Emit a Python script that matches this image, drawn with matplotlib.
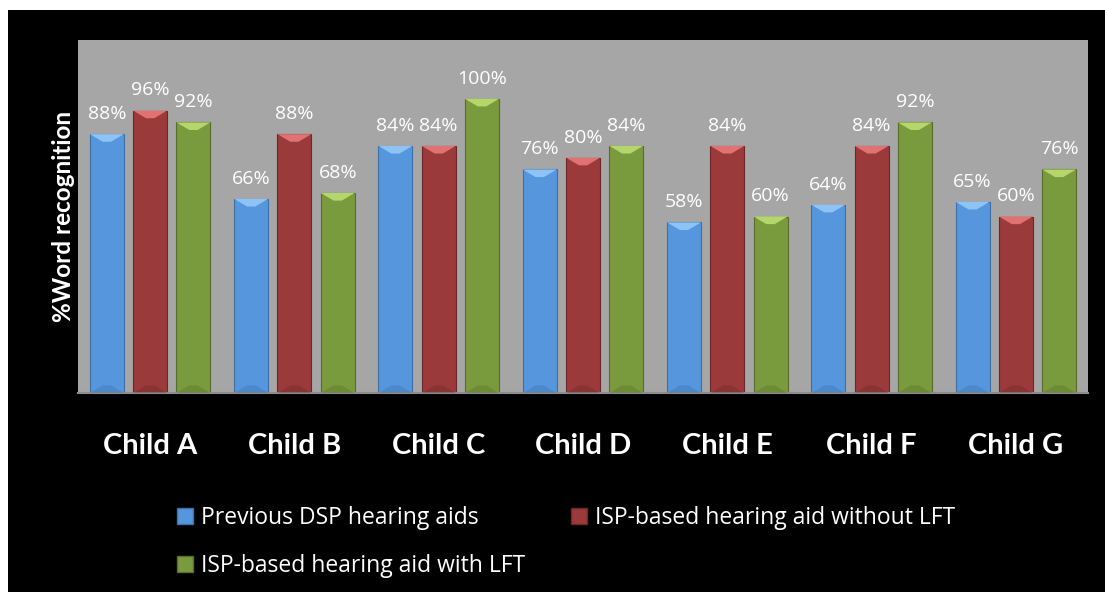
import numpy as np
import matplotlib
matplotlib.use("Agg")
from matplotlib import pyplot as plt
from matplotlib.patches import Polygon, Patch, Rectangle

plt.rcParams['font.family'] = ['Lato', 'DejaVu Sans']

children = ['Child A', 'Child B', 'Child C', 'Child D', 'Child E', 'Child F', 'Child G']
series_names = ['Previous DSP hearing aids',
                'ISP-based hearing aid without LFT',
                'ISP-based hearing aid with LFT']
dsp_prev = [88, 66, 84, 76, 58, 64, 65]
isp_no_lft = [96, 88, 84, 80, 84, 84, 60]
isp_lft = [92, 68, 100, 84, 60, 92, 76]

colors = ['#5596DD', '#9B3A3A', '#7A9A3E']
tops = ['#8EC4F5', '#E07272', '#B4D66A']
edges = ['#3D6FA8', '#6E2626', '#566E2A']

fig = plt.figure(figsize=(11.05, 5.92), dpi=100, facecolor='white')
# black chart background with white margin at left / top
fig.patches.append(Rectangle((8 / 1105, 0), 1, 582 / 592, transform=fig.transFigure,
                             facecolor='black', edgecolor='none', zorder=-10))

ax = fig.add_axes([78 / 1105, 1 - 393 / 592, 1010 / 1105, 353 / 592])
ax.set_facecolor('#A6A6A6')

x = np.arange(len(children))
w = 0.236
offs = [-0.30, 0.0, 0.30]
all_vals = [dsp_prev, isp_no_lft, isp_lft]

for k, vals in enumerate(all_vals):
    bars = ax.bar(x + offs[k], vals, w, color=colors[k], edgecolor=edges[k],
                  linewidth=0.8, zorder=2)
    for b, v in zip(bars, vals):
        x0, x1 = b.get_x(), b.get_x() + b.get_width()
        h = 2.6
        d = b.get_width() * 0.38
        # bevel highlight at top, darker shade at bottom
        ax.add_patch(Polygon([(x0, v), (x1, v), (x1 - d, v - h), (x0 + d, v - h)],
                             closed=True, facecolor=tops[k], edgecolor='none', zorder=3))
        ax.add_patch(Polygon([(x0, 0), (x1, 0), (x1 - d, h), (x0 + d, h)],
                             closed=True, facecolor=edges[k], alpha=0.35,
                             edgecolor='none', zorder=3))
        ax.annotate(f'{v}%', (b.get_x() + b.get_width() / 2, v), xytext=(0, 8),
                    textcoords='offset points', ha='center', va='bottom',
                    color='white', fontsize=14, family=['Open Sans', 'DejaVu Sans'])

ax.set_xlim(-0.5, len(children) - 0.5)
ax.set_ylim(0, 120)
ax.set_yticks([])
ax.set_xticks(x)
ax.set_xticklabels(children, fontsize=21, fontweight='bold', color='white')
ax.tick_params(axis='x', length=0, pad=29)
for s in ['top', 'right', 'left']:
    ax.spines[s].set_visible(False)
ax.spines['bottom'].set_color('#8C8C8C')
ax.spines['bottom'].set_linewidth(1.5)

ax.set_ylabel('%Word recognition', fontsize=17.5, fontweight='bold', color='white',
              labelpad=2)

handles = [Patch(facecolor=colors[0], edgecolor=edges[0], label=series_names[0]),
           Patch(facecolor=colors[2], edgecolor=edges[2], label=series_names[2]),
           Patch(facecolor=colors[1], edgecolor=edges[1], label=series_names[1])]
leg = fig.legend(handles=handles, ncol=2, loc='upper left',
                 bbox_to_anchor=(168 / 1105, 1 - 497 / 592), frameon=False,
                 prop={'family': ['Open Sans', 'DejaVu Sans'], 'size': 16.5},
                 handlelength=0.7, handleheight=0.7, handletextpad=0.35,
                 columnspacing=2.0, labelspacing=1.05, borderaxespad=0)
for t in leg.get_texts():
    t.set_color('white')

fig.savefig('out.png', dpi=100, facecolor=fig.get_facecolor())
